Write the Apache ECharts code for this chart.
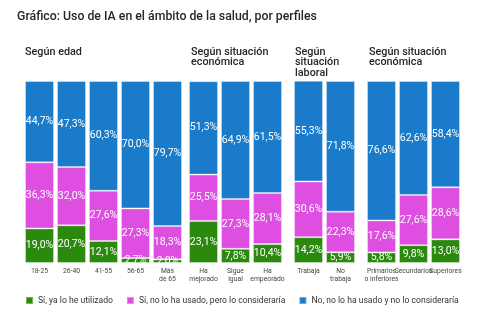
<!DOCTYPE html>
<html>
<head>
<meta charset="utf-8">
<script src="https://cdn.jsdelivr.net/npm/echarts@6/dist/echarts.min.js"></script>
<style>html,body{margin:0;padding:0;background:#fff}#c{width:483px;height:322px}</style>
</head>
<body>
<div id="c"></div>
<script>
const seriesNames = ['Sí, ya lo he utilizado', 'Sí, no lo ha usado, pero lo consideraría', 'No, no lo ha usado y no lo consideraría'];
const panelTitles = ['Según edad', 'Según situación\neconómica', 'Según\nsituación\nlaboral', 'Según situación\neconómica'];

const catEdad = ['18-25', '26-40', '41-55', '56-65', 'Más\nde 65'];
const edadUsed = [19.0, 20.7, 12.1, 2.7, 2.0];
const edadWould = [36.3, 32.0, 27.6, 27.3, 18.3];
const edadNo = [44.7, 47.3, 60.3, 70.0, 79.7];

const catEcon = ['Ha\nmejorado', 'Sigue\nigual', 'Ha\nempeorado'];
const econUsed = [23.1, 7.8, 10.4];
const econWould = [25.5, 27.3, 28.1];
const econNo = [51.3, 64.9, 61.5];

const catLab = ['Trabaja', 'No\ntrabaja'];
const labUsed = [14.2, 5.9];
const labWould = [30.6, 22.3];
const labNo = [55.3, 71.8];

const catEst = ['Primarios\no inferiores', 'Secundarios', 'Superiores'];
const estUsed = [5.8, 9.8, 13.0];
const estWould = [17.6, 27.6, 28.6];
const estNo = [76.6, 62.6, 58.4];

const colors = ['#2b8a0e', '#de4fe1', '#1a7bcb'];
const panels = [
  {cats: catEdad, data: [edadUsed, edadWould, edadNo], left: 23.5, width: 160, tx: 25},
  {cats: catEcon, data: [econUsed, econWould, econNo], left: 187.5, width: 96, tx: 191},
  {cats: catLab, data: [labUsed, labWould, labNo], left: 292.5, width: 64, tx: 295},
  {cats: catEst, data: [estUsed, estWould, estNo], left: 365.5, width: 96, tx: 369}
];
const FONT = 'Roboto, "Noto Sans", sans-serif';
const grid = [], xAxis = [], yAxis = [], series = [];
const titles = [{
  text: 'Gráfico: Uso de IA en el ámbito de la salud, por perfiles',
  left: 12, top: 6,
  textStyle: {fontSize: 12.3, fontWeight: 500, color: '#2a2522', fontFamily: FONT}
}];
panels.forEach((p, i) => {
  grid.push({left: p.left, top: 81, width: p.width, height: 182});
  xAxis.push({
    type: 'category', gridIndex: i, data: p.cats,
    axisLine: {show: false}, axisTick: {show: false},
    axisLabel: {color: '#444', fontSize: 6.8, lineHeight: 8, margin: 4, interval: 0, fontFamily: FONT}
  });
  yAxis.push({type: 'value', gridIndex: i, min: 0, max: 100, show: false, splitLine: {show: false}});
  titles.push({
    text: panelTitles[i], left: p.tx - 5, top: 42,
    textStyle: {fontSize: 10.8, fontWeight: 500, color: '#2a2522', lineHeight: 10.5, fontFamily: FONT}
  });
  p.data.forEach((vals, k) => {
    series.push({
      name: seriesNames[k], type: 'bar', stack: 'p' + i,
      xAxisIndex: i, yAxisIndex: i, data: vals, barWidth: 29,
      itemStyle: {color: colors[k], borderColor: 'rgba(255,255,255,0.35)', borderWidth: 1},
      label: {
        show: true, position: 'inside', color: '#fff', fontSize: 10.5, fontFamily: FONT,
        formatter: d => d.value.toFixed(1).replace('.', ',') + '%'
      },
      emphasis: {disabled: true}
    });
  });
});
const chart = echarts.init(document.getElementById('c'));
chart.setOption({
  animation: false,
  title: titles,
  grid, xAxis, yAxis, series,
  legend: {
    data: seriesNames, left: 20, top: 291, width: 470, itemWidth: 7, itemHeight: 7, itemGap: 13,
    icon: 'rect',
    textStyle: {fontSize: 8.6, color: '#333', fontFamily: FONT}
  }
});
</script>
</body>
</html>
